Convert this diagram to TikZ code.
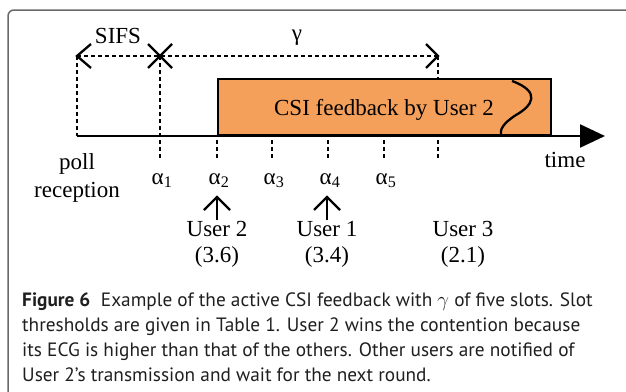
\documentclass[tikz,border=0pt]{standalone}
\usepackage{fontspec}
\setmainfont{Liberation Serif}
\newfontfamily\capfont{PT Sans}
\usetikzlibrary{arrows.meta}
\definecolor{boxorange}{RGB}{245,160,90}
\definecolor{framegray}{RGB}{105,105,105}
\begin{document}
\begin{tikzpicture}[x=1pt,y=-1pt,
  lbl/.style={font=\fontsize{23}{27}\selectfont, inner sep=0pt, anchor=base},
  caplbl/.style={font=\capfont\fontsize{19.3}{23}\selectfont, inner sep=0pt, anchor=base west, text=black!88},
  dsh/.style={dash pattern=on 4pt off 3pt, line width=2.3pt},
  solidln/.style={line width=2.3pt},
  feedbox/.style={draw, fill=boxorange, line width=2.3pt, inner sep=0pt, minimum width=333pt, minimum height=56pt, anchor=south west}]
\useasboundingbox (0,0) rectangle (626,391);
\clip (0,0) rectangle (626,391);
% frame
\draw[framegray, line width=1.5pt, rounded corners=6pt] (8,420) -- (8,10) -- (660,10);
% feedback box
\node[feedbox] (box) at (217,136) {};
\draw[solidln] (512,81) .. controls (542,92) and (532,106) .. (516,115) .. controls (502,124) and (500,130) .. (501,135);
\node[lbl] (csi) at (384,115) {CSI feedback by User 2};
% axis
\coordinate (a0) at (77,136);
\coordinate (aend) at (605,136);
\draw[line width=2.3pt, -{Triangle[length=25pt,width=23pt]}] (a0) -- (aend);
% dashed guides
\coordinate (s0) at (77,56);
\coordinate (s1) at (160,56);
\coordinate (s2) at (438,56);
\draw[dsh] (s0) -- (a0);
\draw[dsh] (s1) -- (160,158);
\draw[dsh] (s2) -- (438,80);
\draw[dsh] (438,140) -- (438,158);
\draw[dsh] (s0) -- (s2);
\foreach \xx in {217,272,328,384} \draw[dsh] (\xx,140) -- (\xx,158);
% marks
\draw[solidln] (91,44) -- (s0) -- (91,68);
\draw[solidln] (148,44) -- (172,68);
\draw[solidln] (148,68) -- (172,44);
\draw[solidln] (426,44) -- (s2) -- (426,68);
% labels
\node[lbl] (sifs) at (118,43) {SIFS};
\node[lbl] (gam) at (297,40) {γ};
\node[lbl] (time) at (565,167) {time};
\node[lbl] (poll) at (77,169) {poll};
\node[lbl] (recep) at (77,197) {reception};
\node[lbl] (al1) at (162,184) {α\textsubscript{1}};
\node[lbl] (al2) at (219,184) {α\textsubscript{2}};
\node[lbl] (al3) at (274,184) {α\textsubscript{3}};
\node[lbl] (al4) at (330,184) {α\textsubscript{4}};
\node[lbl] (al5) at (386,184) {α\textsubscript{5}};
\node[lbl] (u2) at (217,236) {User 2};
\node[lbl] (v2) at (217,262) {(3.6)};
\node[lbl] (u1) at (327,236) {User 1};
\node[lbl] (v1) at (327,262) {(3.4)};
\node[lbl] (u3) at (463,236) {User 3};
\node[lbl] (v3) at (463,262) {(2.1)};
% up arrows
\coordinate (t2) at (217,197);
\coordinate (t1) at (327,197);
\draw[solidln] (217,220) -- (t2);
\draw[solidln] (204,210) -- (t2) -- (230,210);
\draw[solidln] (327,220) -- (t1);
\draw[solidln] (314,210) -- (t1) -- (340,210);
% caption
\node[caplbl] (c1) at (22,306) {{\bfseries Figure 6}\hspace{0.55em}Example of the active CSI feedback with $\gamma$ of five slots. Slot};
\node[caplbl] (c2) at (22,331) {thresholds are given in Table 1. User 2 wins the contention because};
\node[caplbl] (c3) at (22,356) {its ECG is higher than that of the others. Other users are notified of};
\node[caplbl] (c4) at (22,381) {User 2’s transmission and wait for the next round.};
\end{tikzpicture}
\end{document}
